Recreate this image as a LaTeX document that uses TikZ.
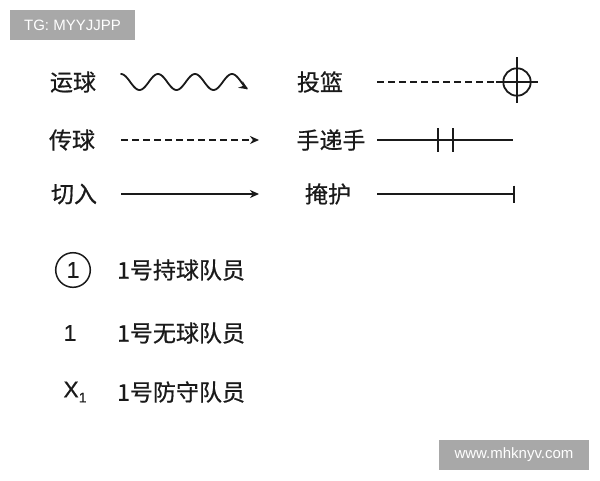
\documentclass[tikz,border=0pt]{standalone}
\usepackage{fontspec}
\setmainfont{Noto Sans CJK SC}
\newfontfamily\cjk{Noto Sans CJK SC}[FakeBold=0.6]
\newfontfamily\latinsans{Liberation Sans}
\newfontfamily\latinsansb{Liberation Sans}[FakeBold=0.5]
\usetikzlibrary{arrows.meta}
\definecolor{wmgrey}{HTML}{A8A8A8}
\definecolor{ink}{HTML}{1A1A1A}
\begin{document}
\begin{tikzpicture}[x=1pt,y=-1pt,
  lab/.style={inner sep=0pt,font=\cjk\fontsize{23}{27}\selectfont,text=ink},
  num/.style={inner sep=0pt,font=\latinsansb\fontsize{23}{27}\selectfont,text=ink},
  sym/.style={draw=ink,line width=1.8pt},
  dashline/.style={sym,dash pattern=on 7pt off 4pt},
  tip/.style={-{Stealth[length=9pt,width=8pt]}},
  wm/.style={fill=wmgrey,text=white,inner sep=0pt,font=\latinsans\fontsize{15}{18}\selectfont}]
\useasboundingbox[fill=white] (0,0) rectangle (600,480);
% watermarks
\node[wm,minimum width=125pt,minimum height=30pt] (tg) at (72.5,25) {TG: MYYJJPP};
\node[wm,minimum width=150pt,minimum height=30pt] (www) at (514,455) {www.mhknyv.com};
% labels
\node[lab] (yq) at (73,82) {运球};
\node[lab] (cq) at (72,140) {传球};
\node[lab] (qr) at (74,194) {切入};
\node[lab] (tl) at (320,82) {投篮};
\node[lab] (sds) at (331,140) {手递手};
\node[lab] (yh) at (328,194) {掩护};
% dribble
\draw[sym,tip,line cap=round] plot[domain=0:127,samples=100,smooth] ({121+\x},{82-8*cos(9.7297*\x)});
% pass
\coordinate (cq-s) at (121,140);
\coordinate (cq-e) at (259,140);
\draw[dashline,tip] (cq-s) -- (cq-e);
% cut
\coordinate (qr-s) at (121,194);
\coordinate (qr-e) at (259,194);
\draw[sym,tip] (qr-s) -- (qr-e);
% shoot
\node[circle,sym,minimum size=27.4pt,inner sep=0pt] (hoop) at (517,82) {};
\coordinate (tl-s) at (377,82);
\draw[dashline] (tl-s) -- (hoop.west);
\draw[sym] (517,57) -- (517,103);
\draw[sym] (496,82) -- (538,82);
% hand-off
\coordinate (sds-s) at (377,140);
\coordinate (sds-e) at (513,140);
\draw[sym] (sds-s) -- (sds-e);
\draw[sym] (437.7,128) -- (437.7,152);
\draw[sym] (453.3,128) -- (453.3,152);
% screen
\coordinate (yh-s) at (377,194);
\coordinate (yh-e) at (514,194);
\draw[sym] (yh-s) -- (yh-e);
\draw[sym] (514,185.5) -- (514,203);
% players
\node[num,circle,draw=ink,line width=1.5pt,minimum size=34.6pt] (p1) at (73,270) {1};
\node[lab,anchor=west] (t1) at (117,270) {1号持球队员};
\node[num] (p2) at (70,333) {1};
\node[num] (p3) at (75,392) {X\raisebox{-5pt}{\fontsize{14}{15}\selectfont 1}};
\node[lab,anchor=west] (t2) at (117,333) {1号无球队员};
\node[lab,anchor=west] (t3) at (117,392) {1号防守队员};
\end{tikzpicture}
\end{document}
